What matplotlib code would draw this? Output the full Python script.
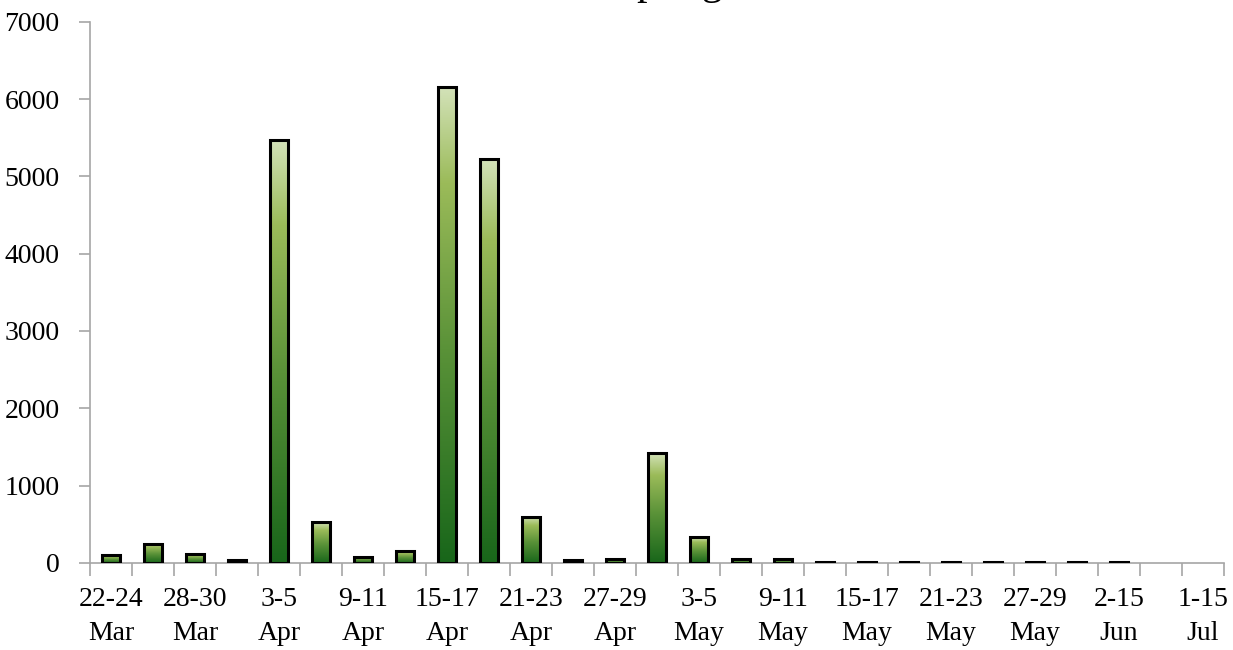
import matplotlib
matplotlib.use('Agg')
import matplotlib.pyplot as plt
import numpy as np
from matplotlib.colors import LinearSegmentedColormap

# sampling periods (only every other one is labelled on the axis)
periods = ['22-24\nMar', '25-27\nMar', '28-30\nMar', '31 Mar-2\nApr', '3-5\nApr',
           '6-8\nApr', '9-11\nApr', '12-14\nApr', '15-17\nApr', '18-20\nApr',
           '21-23\nApr', '24-26\nApr', '27-29\nApr', '30 Apr-2\nMay', '3-5\nMay',
           '6-8\nMay', '9-11\nMay', '12-14\nMay', '15-17\nMay', '18-20\nMay',
           '21-23\nMay', '24-26\nMay', '27-29\nMay', '30 May-1\nJun', '2-15\nJun',
           '16-30\nJun', '1-15\nJul']
counts = [100, 250, 115, 35, 5470, 530, 80, 150, 6150, 5220,
          600, 35, 50, 1420, 335, 50, 50, 15, 15, 15,
          15, 15, 15, 15, 15, 0, 0]
yticks = [0, 1000, 2000, 3000, 4000, 5000, 6000, 7000]

plt.rcParams['font.family'] = ['Liberation Serif', 'DejaVu Serif']

fig = plt.figure(figsize=(12.33, 6.5), dpi=100)
ax = fig.add_axes([0.073, 0.134, 0.9197, 0.8326])

x = np.arange(len(periods))
bars = ax.bar(x, counts, width=0.42, color='none', edgecolor='black',
              linewidth=2.2, zorder=3)

# vertical gradient inside every bar: light top -> dark green bottom
cmap = LinearSegmentedColormap.from_list(
    'grn', [(0.0, '#18661a'), (0.45, '#5a9238'), (0.8, '#9bbb59'), (1.0, '#d3e2b8')])
grad = np.linspace(0, 1, 256).reshape(-1, 1)
for b in bars:
    h = b.get_height()
    if h <= 0:
        b.set_visible(False)
        continue
    bx = b.get_x()
    ax.imshow(grad, cmap=cmap, origin='lower', aspect='auto',
              extent=[bx, bx + b.get_width(), 0, h], zorder=2)

ax.set_xlim(-0.5, len(periods) - 0.5)
ax.set_ylim(0, 7000)
ax.set_yticks(yticks)
ax.set_yticklabels([str(v) for v in yticks], fontsize=20)

# tick marks between categories, labels on every other category
ax.set_xticks(np.arange(-0.5, len(periods), 1.0))
ax.set_xticklabels([])
ax.set_xticks(x[::2], minor=True)
ax.set_xticklabels(periods[::2], minor=True, fontsize=20, linespacing=1.5)
ax.tick_params(axis='x', which='minor', length=0, pad=17)
ax.tick_params(axis='x', which='major', length=9, width=1.2, color='#a6a6a6')
ax.tick_params(axis='y', length=8, width=1.2, color='#a6a6a6', pad=14)

for s in ['top', 'right']:
    ax.spines[s].set_visible(False)
for s in ['left', 'bottom']:
    ax.spines[s].set_color('#a6a6a6')
    ax.spines[s].set_linewidth(1.2)

# title is cut off at the top edge of the original image
fig.text(0.5215, 1.009, 'Sampling', fontsize=30, ha='center', va='baseline')

fig.savefig('out.png', dpi=100)
